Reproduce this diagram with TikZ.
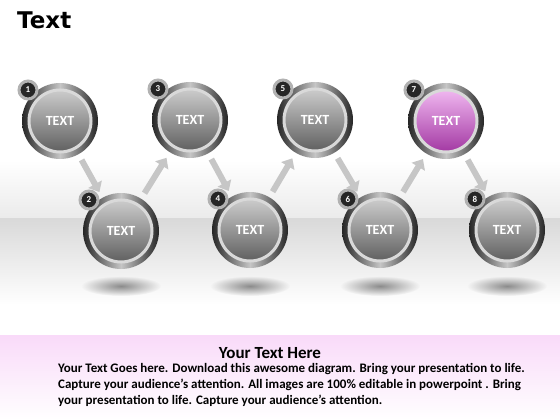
\documentclass[tikz,border=0pt]{standalone}
\usepackage{fontspec}
\setmainfont{Carlito}
\newfontfamily\headfont{DejaVu Sans}
\usetikzlibrary{positioning,calc,arrows.meta,fadings}
\definecolor{orbpink}{HTML}{D94BD9}
\definecolor{bandpink}{HTML}{F9DAF9}
\tikzfading[name=shadowfade, inner color=transparent!0, outer color=transparent!100]

\begin{document}
\begin{tikzpicture}[x=1pt,y=-1pt]
  \useasboundingbox (0,0) rectangle (560,420);
  % floor and text band
  \shade[top color=white, bottom color=gray!16] (0,160) rectangle (560,218);
  \shade[top color=gray!30, bottom color=white] (0,218) rectangle (560,305);
  \shade[top color=bandpink, bottom color=white] (0,335) rectangle (560,420);
  \foreach \n/\x in {2/121,4/250,6/380,8/507}
    \fill[black!45, path fading=shadowfade] (\x,286) ellipse (40pt and 10pt);
  \begin{scope}[
    every node/.style={
      circle,
      inner sep=0pt,
      minimum size=62pt,
      draw=gray!30,
      line width=3pt,
      text=white,
      font=\bfseries\fontsize{14}{14}\selectfont,
    },
    orb/.style={top color=#1!40, bottom color=#1!75!black},
    ]
    \foreach \n/\x/\y/\col in {1/60/121/gray, 2/121/231/gray, 3/190/120/gray,
        4/250/230/gray, 5/315/120/gray, 6/380/230/gray, 7/446/121/orbpink,
        8/507/230/gray} {
      \shade[left color=black!85, right color=black!85, middle color=gray!45]
        (\x,\y) circle (38pt);
      \node[orb=\col] (orb\n) at (\x,\y) {TEXT};
    }
  \end{scope}
  \begin{scope}[
    every node/.style={
      circle,
      inner sep=0pt,
      minimum size=18pt,
      fill=black!85,
      draw=gray!60,
      line width=3pt,
      text=white,
      font=\bfseries\fontsize{9}{9}\selectfont,
    },
    ]
    \foreach \n in {1,...,8}
      \node (num\n) at ($(orb\n)+(-32,-31)$) {\n};
  \end{scope}
  \begin{scope}[
    every path/.style={draw=gray!45,line width=6pt,
      -{Triangle[length=9pt,width=15pt]},shorten <=12pt,shorten >=12pt},
    ]
    \path
    (orb1) edge (orb2)
    (orb2) edge (orb3)
    (orb3) edge (orb4)
    (orb4) edge (orb5)
    (orb5) edge (orb6)
    (orb6) edge (orb7)
    (orb7) edge (orb8);
  \end{scope}
  \node[anchor=west,inner sep=0pt,font=\headfont\bfseries\fontsize{23}{23}\selectfont]
    (title) at (17,20) {Text};
  \node[font=\bfseries\fontsize{17}{17}\selectfont] (band-head) at (270,353) {Your Text Here};
  \node[anchor=north west,inner sep=0pt,align=left,
    font=\bfseries\fontsize{13}{16}\selectfont] (band-body) at (58,363)
    {Your Text Goes here. Download this awesome diagram. Bring your presentation to life.\\
     Capture your audience’s attention. All images are 100\% editable in powerpoint . Bring\\
     your presentation to life. Capture your audience’s attention.};
\end{tikzpicture}
\end{document}
